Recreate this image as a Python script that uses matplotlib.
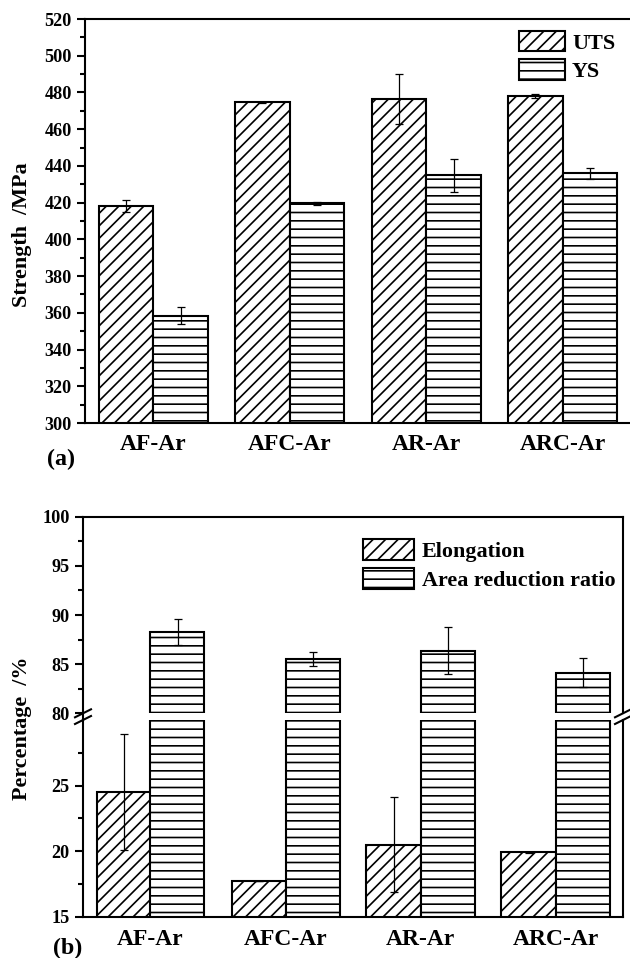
import matplotlib
matplotlib.use('Agg')
import matplotlib.pyplot as plt
import numpy as np
from matplotlib.ticker import FixedLocator
from matplotlib.lines import Line2D

# data
groups = ['AF-Ar', 'AFC-Ar', 'AR-Ar', 'ARC-Ar']
uts = [418.2, 474.6, 476.4, 478.2]
uts_err = [3.5, 0.3, 13.5, 1.2]
ys = [358.4, 419.6, 435.0, 436.0]
ys_err = [4.5, 1.0, 9.0, 3.0]
elong = [24.5, 17.7, 20.5, 19.9]
elong_err = [4.4, 0.0, 3.6, 0.05]
area_red = [88.25, 85.5, 86.35, 84.15]
area_err = [1.3, 0.7, 2.4, 1.45]

plt.rcParams['font.family'] = ['Liberation Serif', 'DejaVu Serif']
plt.rcParams['font.weight'] = 'bold'
plt.rcParams['hatch.linewidth'] = 0.8

W, H, DPI = 630, 958, 150
fig = plt.figure(figsize=(W / DPI, H / DPI), dpi=DPI)


def fbox(left, top, right, bottom):
    # pixel box -> figure fraction
    return [left / W, 1 - bottom / H, (right - left) / W, (bottom - top) / H]


def fx(px):
    return px / W


def fy(py):
    return 1 - py / H


x = np.arange(1, len(groups) + 1)
bw = 0.4
ekw = dict(ecolor='black', elinewidth=0.6, capsize=2.0, capthick=0.6)
bkw = dict(color='white', edgecolor='black', linewidth=1.0)
diag = '////'
horiz = '---'


def style(ax, major, minor):
    ax.yaxis.set_major_locator(FixedLocator(major))
    ax.yaxis.set_minor_locator(FixedLocator(minor))
    ax.tick_params(axis='y', which='major', direction='out', length=4, width=1,
                   labelsize=8.7, pad=2.4)
    ax.tick_params(axis='y', which='minor', direction='out', length=2.4, width=1)
    ax.tick_params(axis='x', length=0, labelsize=11.3, pad=5.5)
    ax.set_xlim(0.5, 4.5)
    for s in ax.spines.values():
        s.set_linewidth(1.0)


# ---- (a) strength ----
ax1 = fig.add_axes(fbox(85, 19, 631, 423))
ax1.bar(x - bw / 2, uts, bw, yerr=uts_err, hatch=diag, label='UTS', error_kw=ekw, **bkw)
ax1.bar(x + bw / 2, ys, bw, yerr=ys_err, hatch=horiz, label='YS', error_kw=ekw, **bkw)
ax1.set_ylim(300, 520)
style(ax1, np.arange(300, 521, 20), np.arange(310, 520, 20))
ax1.set_xticks(x)
ax1.set_xticklabels(groups)
ax1.spines['right'].set_visible(False)
ax1.legend(loc='upper left', bbox_to_anchor=(fx(519), fy(31)), bbox_transform=fig.transFigure,
           frameon=False, borderpad=0, borderaxespad=0, handlelength=2.1, handleheight=1.05,
           labelspacing=0.25, handletextpad=0.3, prop=dict(size=10.6, weight='bold'))

fig.text(fx(22), fy(235), 'Strength  /MPa', rotation=90, ha='center', va='center', size=10.6)
fig.text(fx(47), fy(459), '(a)', ha='left', va='center', size=11.5)

# ---- (b) percentage, broken axis ----
ax2 = fig.add_axes(fbox(83, 516.7, 623, 713.3))
ax3 = fig.add_axes(fbox(83, 720, 623, 916.7))
for ax in (ax2, ax3):
    ax.bar(x - bw / 2, elong, bw, yerr=elong_err, hatch=diag, label='Elongation', error_kw=ekw, **bkw)
    ax.bar(x + bw / 2, area_red, bw, yerr=area_err, hatch=horiz, label='Area reduction ratio',
           error_kw=ekw, **bkw)
ax2.set_ylim(80, 100)
ax3.set_ylim(15, 30)
style(ax2, [80, 85, 90, 95, 100], [82.5, 87.5, 92.5, 97.5])
style(ax3, [15, 20, 25], [17.5, 22.5, 27.5])
ax2.spines['bottom'].set_visible(False)
ax3.spines['top'].set_visible(False)
ax2.set_xticks([])
ax3.set_xticks(x)
ax3.set_xticklabels(groups)
ax3.tick_params(axis='x', pad=6)

ax2.legend(loc='upper left', bbox_to_anchor=(fx(363), fy(539)), bbox_transform=fig.transFigure,
           frameon=False, borderpad=0, borderaxespad=0, handlelength=2.3, handleheight=1.09,
           labelspacing=0.25, handletextpad=0.35, prop=dict(size=10.6, weight='bold'))

# left spine runs through the gap, break marks on both sides
fig.add_artist(Line2D([fx(83), fx(83)], [fy(713.3), fy(720)], color='black', lw=1.0))
for sx in (83, 623):
    for sy in (713.3, 720):
        fig.add_artist(Line2D([fx(sx - 8), fx(sx + 8)], [fy(sy + 4), fy(sy - 4)],
                              color='black', lw=1.0))

fig.text(fx(22), fy(728), 'Percentage  /%', rotation=90, ha='center', va='center', size=10.6)
fig.text(fx(53), fy(948), '(b)', ha='left', va='center', size=11.5)

fig.savefig('out.png', dpi=DPI)
